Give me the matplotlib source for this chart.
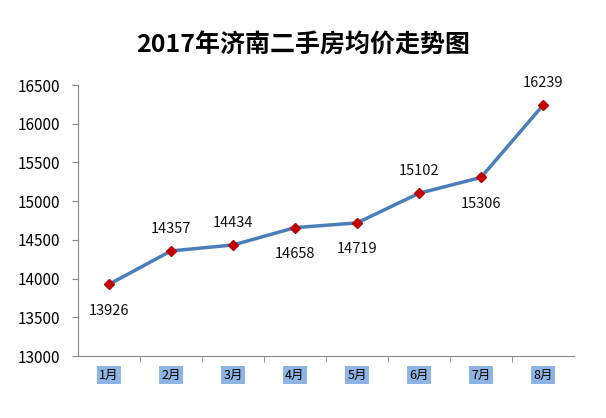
import matplotlib
matplotlib.use("Agg")
import matplotlib.pyplot as plt

plt.rcParams['font.family'] = ['Noto Sans CJK SC', 'DejaVu Sans']

# Data
months = ["1月", "2月", "3月", "4月", "5月", "6月", "7月", "8月"]
prices = [13926, 14357, 14434, 14658, 14719, 15102, 15306, 16239]
label_above = [False, True, True, False, False, True, False, True]

fig = plt.figure(figsize=(6.06, 4.18), dpi=100)
ax = fig.add_axes([0.1287, 0.1483, 0.8185, 0.6483])

x = list(range(len(months)))
ax.plot(x, prices, color="#4A7EBB", linewidth=2.5, marker="D",
        markersize=5, markerfacecolor="#C00000", markeredgecolor="#C00000",
        zorder=3)

for xi, v, up in zip(x, prices, label_above):
    ax.annotate(str(v), (xi, v), xytext=(0, 16 if up else -19),
                textcoords="offset points", ha="center", va="center",
                fontsize=10.5, color="#111111")

ax.set_xlim(-0.5, len(months) - 0.5)
ax.set_ylim(13000, 16500)
ax.set_yticks(range(13000, 16501, 500))
ax.tick_params(axis="y", labelsize=11, length=4, color="#888888", pad=9)

ax.set_xticks(x)
ax.set_xticklabels(months)
ax.tick_params(axis="x", length=0, labelsize=9, pad=9)
for lbl in ax.get_xticklabels():
    lbl.set_bbox(dict(facecolor="#8DB4E2", edgecolor="none", pad=1.5))

# category boundary ticks
ax.set_xticks([i + 0.5 for i in range(len(months) - 1)], minor=True)
ax.tick_params(axis="x", which="minor", length=4, color="#888888")

for s in ["top", "right"]:
    ax.spines[s].set_visible(False)
ax.spines["left"].set_color("#888888")
ax.spines["bottom"].set_color("#888888")

fig.text(0.5, 0.89, "2017年济南二手房均价走势图", ha="center", va="center",
         fontsize=18, fontweight="bold")

fig.savefig("out.png", dpi=100)
